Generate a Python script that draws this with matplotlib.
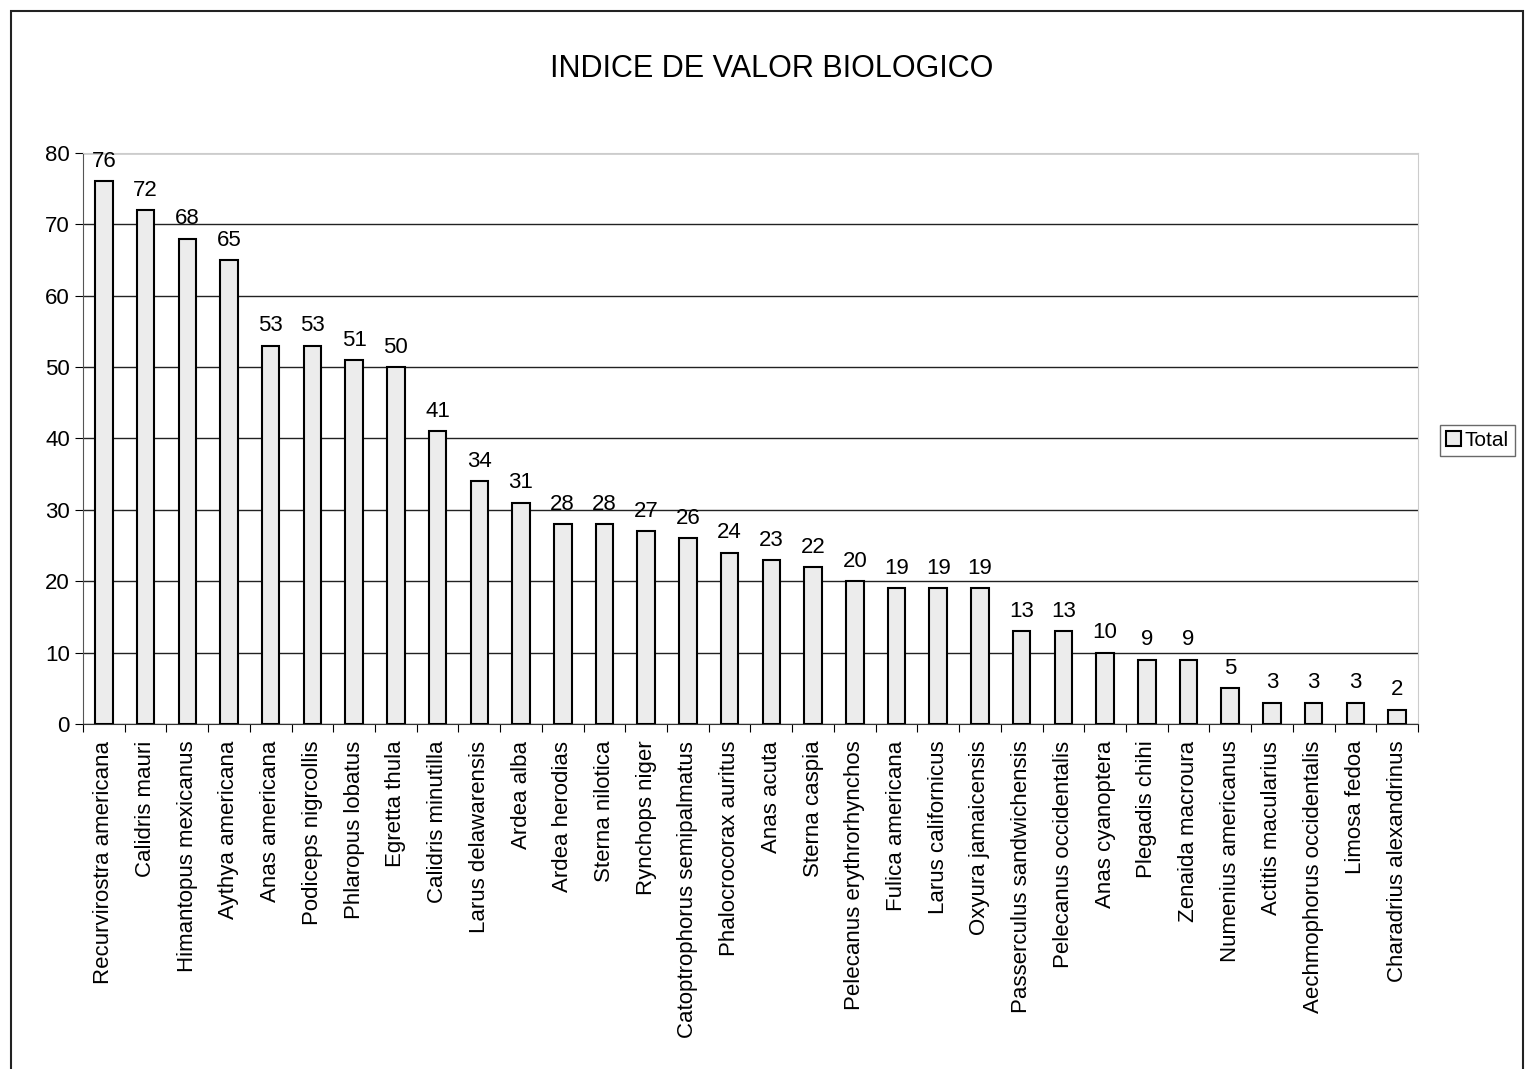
import matplotlib
matplotlib.use('Agg')
import matplotlib.pyplot as plt
from matplotlib.patches import Rectangle

# datos del grafico
especies = ['Recurvirostra americana', 'Calidris mauri', 'Himantopus mexicanus',
            'Aythya americana', 'Anas americana', 'Podiceps nigrcollis',
            'Phlaropus lobatus', 'Egretta thula', 'Calidris minutilla',
            'Larus delawarensis', 'Ardea alba', 'Ardea herodias', 'Sterna nilotica',
            'Rynchops niger', 'Catoptrophorus semipalmatus', 'Phalocrocorax auritus',
            'Anas acuta', 'Sterna caspia', 'Pelecanus erythrorhynchos',
            'Fulica americana', 'Larus californicus', 'Oxyura jamaicensis',
            'Passerculus sandwichensis', 'Pelecanus occidentalis', 'Anas cyanoptera',
            'Plegadis chihi', 'Zenaida macroura', 'Numenius americanus',
            'Actitis macularius', 'Aechmophorus occidentalis', 'Limosa fedoa',
            'Charadrius alexandrinus']
total = [76, 72, 68, 65, 53, 53, 51, 50, 41, 34, 31, 28, 28, 27, 26, 24, 23, 22,
         20, 19, 19, 19, 13, 13, 10, 9, 9, 5, 3, 3, 3, 2]
yticks = [0, 10, 20, 30, 40, 50, 60, 70, 80]

plt.rcParams['font.family'] = ['Liberation Sans', 'DejaVu Sans']

fig = plt.figure(figsize=(15.28, 10.69), dpi=100)
ax = fig.add_axes([0.0543, 0.3227, 0.8737, 0.5343])

x = list(range(len(especies)))
bars = ax.bar(x, total, width=0.42, color='#ececec', edgecolor='black',
              linewidth=1.5, label='Total', zorder=3)

for xi, v in zip(x, total):
    ax.text(xi, v + 1.3, str(v), ha='center', va='bottom', fontsize=16)

ax.set_xlim(-0.5, len(especies) - 0.5)
ax.set_ylim(0, 80)
ax.set_yticks(yticks)
ax.tick_params(axis='y', labelsize=16, length=6, direction='out')
ax.yaxis.grid(True, color='#222222', linewidth=1.0, zorder=0)

# ticks entre categorias
ax.set_xticks([i + 0.5 for i in range(-1, len(especies))], minor=False)
ax.set_xticklabels([])
ax.set_xticks(x, minor=True)
ax.set_xticklabels(especies, minor=True, rotation=90, fontsize=16)
ax.tick_params(axis='x', which='major', length=6, direction='out')
ax.tick_params(axis='x', which='minor', length=0, pad=12)

for s in ['top', 'right']:
    ax.spines[s].set_color('#cccccc')
ax.spines['left'].set_color('#555555')
ax.spines['bottom'].set_color('#333333')

fig.text(0.505, 0.935, 'INDICE DE VALOR BIOLOGICO', ha='center', va='center',
         fontsize=22)

leg = fig.legend(handles=[bars], labels=['Total'], loc='center',
                 bbox_to_anchor=(0.967, 0.588), fontsize=15, frameon=True,
                 fancybox=False, edgecolor='#444444', handlelength=0.7,
                 handleheight=0.7, handletextpad=0.2, borderpad=0.3)
leg.get_frame().set_linewidth(1.0)

# marco exterior
fig.patches.append(Rectangle((0.007, -0.01), 0.99, 1.0, transform=fig.transFigure,
                             fill=False, edgecolor='#222222', linewidth=1.5))

fig.savefig('out.png', dpi=100)
